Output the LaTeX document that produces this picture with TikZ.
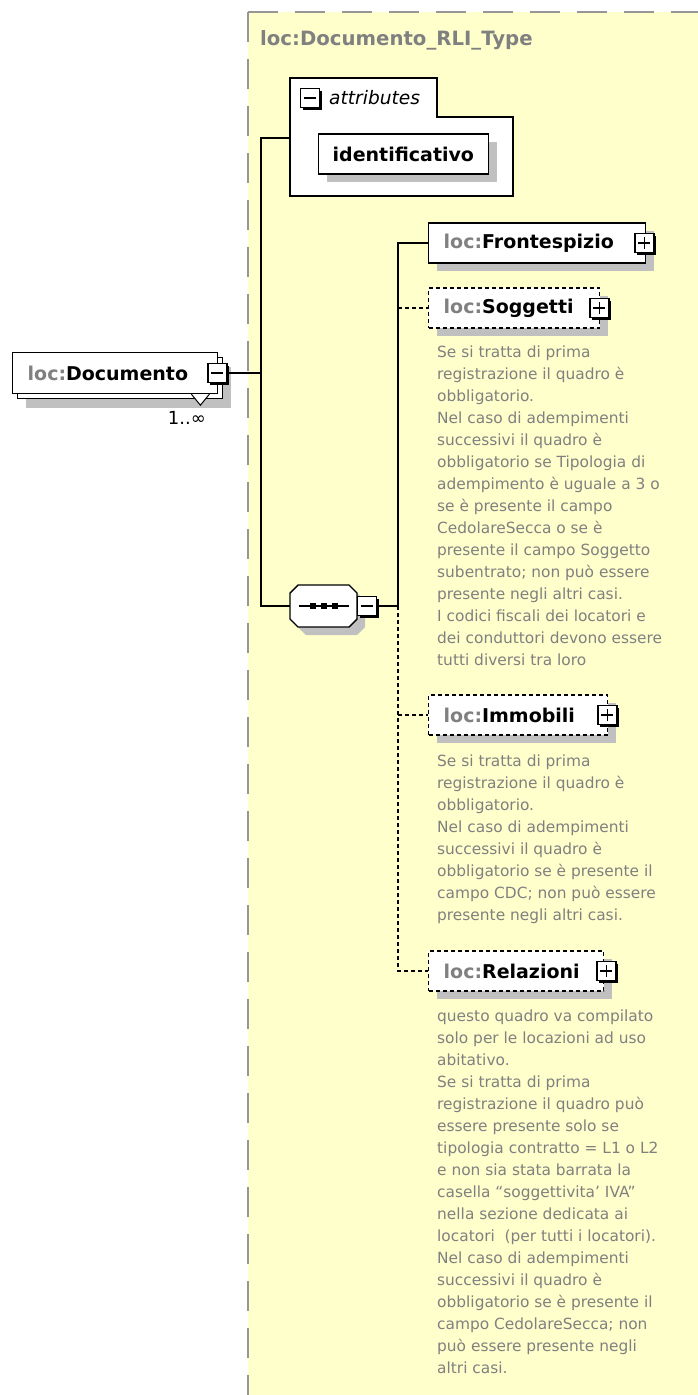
\documentclass[tikz,border=0pt]{standalone}
\usepackage{fontspec}
\setmainfont{DejaVu Sans}
\usetikzlibrary{calc,positioning,shadows}

\definecolor{r255g255b204}{RGB}{255,255,204}
\definecolor{r128g128b128}{RGB}{128,128,128}
\definecolor{r150g150b150}{RGB}{150,150,150}
\definecolor{r192g192b192}{RGB}{192,192,192}

\newcommand{\locpfx}{\textcolor{r128g128b128}{loc:}}

\tikzset{
  greyshadow/.style={general shadow={shadow xshift=#1, shadow yshift=-#1, fill=r192g192b192}},
  basebox/.style={draw, fill=white, line width=1.4pt, anchor=west, minimum height=40pt,
    inner xsep=15pt, inner ysep=0pt, text width=#1, align=left,
    font=\fontsize{19}{22}\selectfont\bfseries},
  elembox/.style={greyshadow=8pt, basebox=#1},
  optbox/.style={elembox=#1, dash pattern=on 4pt off 3pt},
  iconbox/.style={draw, fill=white, line width=1.2pt, minimum size=19pt, inner sep=0pt,
    general shadow={shadow xshift=2.5pt, shadow yshift=-2.5pt, fill=black}},
  plusicon/.style={iconbox, path picture={
      \draw[line width=1.3pt] ([xshift=-6pt]path picture bounding box.center) -- ([xshift=6pt]path picture bounding box.center);
      \draw[line width=1.3pt] ([yshift=-6pt]path picture bounding box.center) -- ([yshift=6pt]path picture bounding box.center);}},
  minusicon/.style={iconbox, path picture={
      \draw[line width=1.3pt] ([xshift=-6pt]path picture bounding box.center) -- ([xshift=6pt]path picture bounding box.center);}},
  seqbox/.style={rectangle, minimum width=67pt, minimum height=42pt, inner sep=0pt,
    outer sep=0pt, anchor=west},
  doctext/.style={anchor=north west, inner sep=0pt, align=left, text=r128g128b128,
    font=\fontsize{15.4}{22}\selectfont},
  wire/.style={line width=1.4pt},
  optwire/.style={line width=1.4pt, dash pattern=on 4pt off 3pt},
}

\begin{document}
\begin{tikzpicture}[x=1pt,y=-1pt]
  \useasboundingbox (0,0) rectangle (698,1395);

  % Drawing type area
  \fill[r255g255b204] (248,12) rectangle (698,1395);
  \draw[r150g150b150, line width=2pt, dash pattern=on 30pt off 17pt] (248,12) -- (698,12);
  \draw[r150g150b150, line width=2pt, dash pattern=on 30pt off 17pt] (248,12) -- (248,1395);

  % Marking type name
  \node[anchor=west, inner sep=0pt, text=r128g128b128, font=\fontsize{19.7}{22}\selectfont\bfseries]
    (typename) at (260,40) {loc:Documento\_RLI\_Type};

  % Drawing attributes group
  \draw[fill=white, line width=1.4pt] (290,78) -- (437,78) -- (437,117) -- (513,117)
    -- (513,196) -- (290,196) -- cycle;
  \coordinate (attrin) at (290,138);
  \node[minusicon] (attricon) at (310,98) {};
  \node[anchor=west, inner sep=0pt, font=\fontsize{18.6}{22}\selectfont\itshape]
    (attrlabel) at (329,98) {attributes};
  \node[elembox=142pt, inner xsep=14pt] (ident) at (318,154) {identificativo};

  % Drawing element Documento
  \node[general shadow={shadow xshift=13pt, shadow yshift=-14pt, fill=r192g192b192},
        general shadow={shadow xshift=5pt, shadow yshift=-5pt, fill=white, draw=black, line width=1.4pt},
        basebox=175pt, minimum height=41pt] (doc) at (12,373) {\locpfx Documento};
  \node[minusicon] (docicon) at ([xshift=-1pt]doc.east) {};
  \draw[fill=white, line width=1pt] ([xshift=-27pt]doc.south east) -- ([xshift=-18pt,yshift=-11pt]doc.south east)
    -- ([xshift=-9pt]doc.south east);
  \node[anchor=base east, inner sep=0pt, font=\fontsize{18}{22}\selectfont] (docmult) at (206,424) {1..∞};

  % Drawing sequence
  \node[seqbox] (seq) at (290,606) {};
  \draw[wire, fill=white, greyshadow=8pt] ([yshift=-8pt]seq.north west) -- ([xshift=8pt]seq.north west)
    -- ([xshift=-8pt]seq.north east) -- ([yshift=-8pt]seq.north east)
    -- ([yshift=8pt]seq.south east) -- ([xshift=-8pt]seq.south east)
    -- ([xshift=8pt]seq.south west) -- ([yshift=8pt]seq.south west) -- cycle;
  \node[minusicon, anchor=west] (seqicon) at (seq.east) {};
  \draw[wire] ([xshift=-25pt]seq.center) -- ([xshift=25pt]seq.center);
  \foreach \dx in {-11,0,11}
    \fill ([xshift=\dx pt]seq.center) +(-3,-3) rectangle +(3,3);

  % Drawing element Frontespizio
  \node[elembox=187pt] (front) at (428,243) {\locpfx Frontespizio};
  \node[plusicon] (fronticon) at ([xshift=-2pt]front.east) {};

  % Drawing element Soggetti
  \node[optbox=141pt] (sogg) at (428,308) {\locpfx Soggetti};
  \node[plusicon] (soggicon) at ([xshift=-1pt]sogg.east) {};
  \node[doctext] (soggdoc) at (437,346) {Se si tratta di prima\\
    registrazione il quadro è\\
    obbligatorio.\\
    Nel caso di adempimenti\\
    successivi il quadro è\\
    obbligatorio se Tipologia di\\
    adempimento è uguale a 3 o\\
    se è presente il campo\\
    CedolareSecca o se è\\
    presente il campo Soggetto\\
    subentrato; non può essere\\
    presente negli altri casi.\\
    I codici fiscali dei locatori e\\
    dei conduttori devono essere\\
    tutti diversi tra loro};

  % Drawing element Immobili
  \node[optbox=149pt] (imm) at (428,715) {\locpfx Immobili};
  \node[plusicon] (immicon) at ([xshift=-1pt]imm.east) {};
  \node[doctext] (immdoc) at (437,755) {Se si tratta di prima\\
    registrazione il quadro è\\
    obbligatorio.\\
    Nel caso di adempimenti\\
    successivi il quadro è\\
    obbligatorio se è presente il\\
    campo CDC; non può essere\\
    presente negli altri casi.};

  % Drawing element Relazioni
  \node[optbox=145pt] (rel) at (428,971) {\locpfx Relazioni};
  \node[plusicon] (relicon) at ([xshift=2pt]rel.east) {};
  \node[doctext] (reldoc) at (437,1010) {questo quadro va compilato\\
    solo per le locazioni ad uso\\
    abitativo.\\
    Se si tratta di prima\\
    registrazione il quadro può\\
    essere presente solo se\\
    tipologia contratto = L1 o L2\\
    e non sia stata barrata la\\
    casella “soggettivita' IVA”\\
    nella sezione dedicata ai\\
    locatori\ \ (per tutti i locatori).\\
    Nel caso di adempimenti\\
    successivi il quadro è\\
    obbligatorio se è presente il\\
    campo CedolareSecca; non\\
    può essere presente negli\\
    altri casi.};

  % Drawing connectors
  \coordinate (trunk) at (261,373);
  \coordinate (branch) at (398,606);
  \draw[wire] (docicon.east) -- (trunk);
  \draw[wire] (attrin) -| (trunk) |- (seq.west);
  \draw[wire] (seqicon.east) -- (branch) |- (front.west);
  \draw[optwire] (branch |- sogg.west) -- (sogg.west);
  \draw[optwire] (branch |- imm.west) -- (imm.west);
  \draw[optwire] (branch) |- (rel.west);
\end{tikzpicture}
\end{document}
